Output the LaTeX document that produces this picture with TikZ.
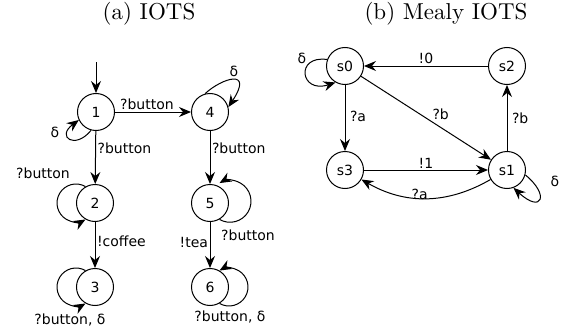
\documentclass[tikz,border=0pt]{standalone}
\usepackage{fontspec}
\newfontfamily\lblfont{DejaVu Sans}
\newfontfamily\ttlfont{lmroman10-regular}[Extension=.otf]
\usetikzlibrary{arrows.meta}
\begin{document}
\begin{tikzpicture}[x=1pt,y=1pt,
  line width=1pt,
  state/.style={draw, circle, minimum size=37pt, inner sep=0pt, font=\lblfont\fontsize{14}{16}\selectfont},
  lbl/.style={inner sep=1.5pt, font=\lblfont\fontsize{14}{16}\selectfont},
  ttl/.style={inner sep=0pt, font=\ttlfont\fontsize{23}{27}\selectfont},
  arr/.style={-{Stealth[length=12pt,width=10pt,inset=4pt]}}]
\useasboundingbox (0,0) rectangle (566,-332);
% titles
\node[ttl] (ta) at (149,-14) {(a) IOTS};
\node[ttl] (tb) at (446,-14) {(b) Mealy IOTS};
% ---- IOTS ----
\node[state] (n1) at (96,-112) {1};
\node[state] (n4) at (210,-112) {4};
\node[state] (n2) at (95,-203) {2};
\node[state] (n3) at (95,-287) {3};
\node[state] (n5) at (210,-203) {5};
\node[state] (n6) at (210,-287) {6};
\coordinate (init) at (96,-62);
\draw[arr] (init) -- (n1);
\draw[arr] (n1) -- node[lbl, pos=0.42, above] {?button} (n4);
\draw[arr] (n1) -- node[lbl, pos=0.33, right] {?button} (n2);
\draw[arr] (n4) -- node[lbl, pos=0.33, right] {?button} (n5);
\draw[arr] (n2) -- node[lbl, pos=0.42, right] {!coffee} (n3);
\draw[arr] (n5) -- node[lbl, pos=0.45, left] {!tea} (n6);
% self loops
\draw[arr] (n1.255) .. controls (75,-150) and (56,-137) .. (n1.205);
\node[lbl] (d1) at (55,-132) {δ};
\draw[arr] (n4.105) .. controls (222,-78) and (254,-68) .. (n4.15);
\node[lbl] (d4) at (234,-71) {δ};
\draw[arr] (n2.120) arc[start angle=60, end angle=300, radius=19pt];
\node[lbl] (l2) at (43,-173) {?button};
\draw[arr] (n3.120) arc[start angle=60, end angle=300, radius=19pt];
\node[lbl] (l3) at (70,-320) {?button, δ};
\draw[arr] (n5.-60) arc[start angle=240, end angle=480, radius=21pt];
\node[lbl] (l5) at (248,-235) {?button};
\draw[arr] (n6.-60) arc[start angle=240, end angle=480, radius=19pt];
\node[lbl] (l6) at (230,-317) {?button, δ};
% ---- Mealy IOTS ----
\node[state] (s0) at (345,-66) {s0};
\node[state] (s2) at (507,-66) {s2};
\node[state] (s3) at (345,-170) {s3};
\node[state] (s1) at (507,-170) {s1};
\draw[arr] (s2) -- node[lbl, above] {!0} (s0);
\draw[arr] (s0) -- node[lbl, pos=0.55, above right, xshift=-2pt] {?b} (s1);
\draw[arr] (s0) -- node[lbl, pos=0.48, right, xshift=3pt] {?a} (s3);
\draw[arr] (s1) -- node[lbl, pos=0.5, right, xshift=3pt] {?b} (s2);
\draw[arr] (s3) -- node[lbl, above] {!1} (s1);
\draw[arr] (s1) to[bend left=30] node[lbl, pos=0.55, above, yshift=-4pt] {?a} (s3);
\draw[arr] (s0.160) .. controls (295,-55) and (300,-94) .. (s0.240);
\node[lbl] (ds0) at (302,-58) {δ};
\draw[arr] (s1.-15) .. controls (550,-195) and (542,-214) .. (s1.-70);
\node[lbl] (ds1) at (555,-181) {δ};
\end{tikzpicture}
\end{document}
